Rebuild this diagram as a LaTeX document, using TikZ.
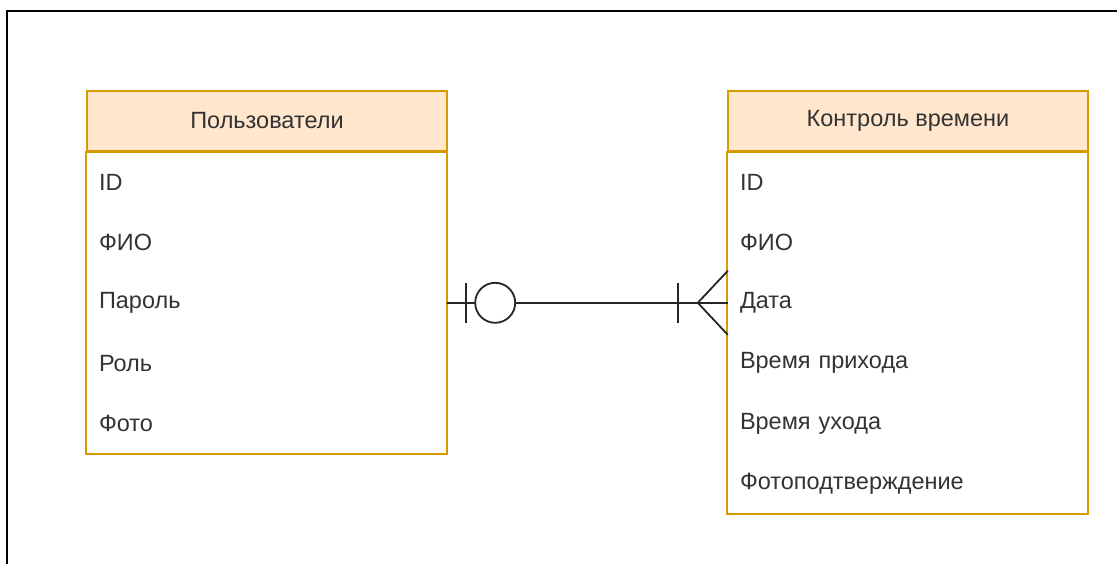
\documentclass[tikz,border=0pt]{standalone}
\usepackage{fontspec}
\setmainfont{Liberation Sans}
\usetikzlibrary{positioning,calc}

\definecolor{tblhead}{HTML}{FFE6CC}
\definecolor{tblline}{HTML}{D79B00}

\begin{document}
\begin{tikzpicture}[
    x=1pt, y=-1pt,
    node distance=0pt,
    head/.style={
        rectangle, draw=tblline, fill=tblhead, line width=1.6pt,
        minimum width=360pt, minimum height=60pt, inner sep=0pt,
        font=\fontsize{23.5}{28}\selectfont, text=black!80
    },
    field/.style={
        rectangle, text width=336pt, inner xsep=12pt, inner ysep=0pt,
        minimum height=60pt, align=left,
        font=\fontsize{23.5}{28}\selectfont, text=black!80
    },
    body/.style={draw=tblline, line width=1.6pt},
    rel/.style={line width=1.8pt, black!85}
]
\useasboundingbox (0,0) rectangle (1117,564);

% Frame
\draw[line width=2.2pt] (7,564) |- (1117,11);

% Nodes - Пользователи
\node[head] (U) at (267,121) {Пользователи};
\node[field, below=of U] (U1) {ID};
\node[field, below=of U1] (U2) {ФИО};
\node[field, below=of U2] (U3) {Пароль};
\node[field, below=of U3] (U4) {Роль};
\node[field, below=of U4] (U5) {Фото};
\draw[body] (U.south west) rectangle (U5.south east);

% Nodes - Контроль времени
\node[head] (T) at (908,121) {Контроль времени};
\node[field, below=of T] (T1) {ID};
\node[field, below=of T1] (T2) {ФИО};
\node[field, below=of T2] (T3) {Дата};
\node[field, below=of T3] (T4) {Время прихода};
\node[field, below=of T4] (T5) {Время ухода};
\node[field, below=of T5] (T6) {Фотоподтверждение};
\draw[body] (T.south west) rectangle (T6.south east);

% Relation
\draw[rel] (U3.east) -- (T3.west);
\draw[rel] ($(U3.east)+(19,-20)$) -- ++(0,40);
\draw[rel, fill=white] ($(U3.east)+(48,0)$) circle[radius=20pt];
\draw[rel] ($(T3.west)+(-50,-20)$) -- ++(0,40);
\draw[rel] ($(T3.west)+(0,-32)$) -- ($(T3.west)+(-30,0)$) -- ($(T3.west)+(0,32)$);

\end{tikzpicture}
\end{document}
